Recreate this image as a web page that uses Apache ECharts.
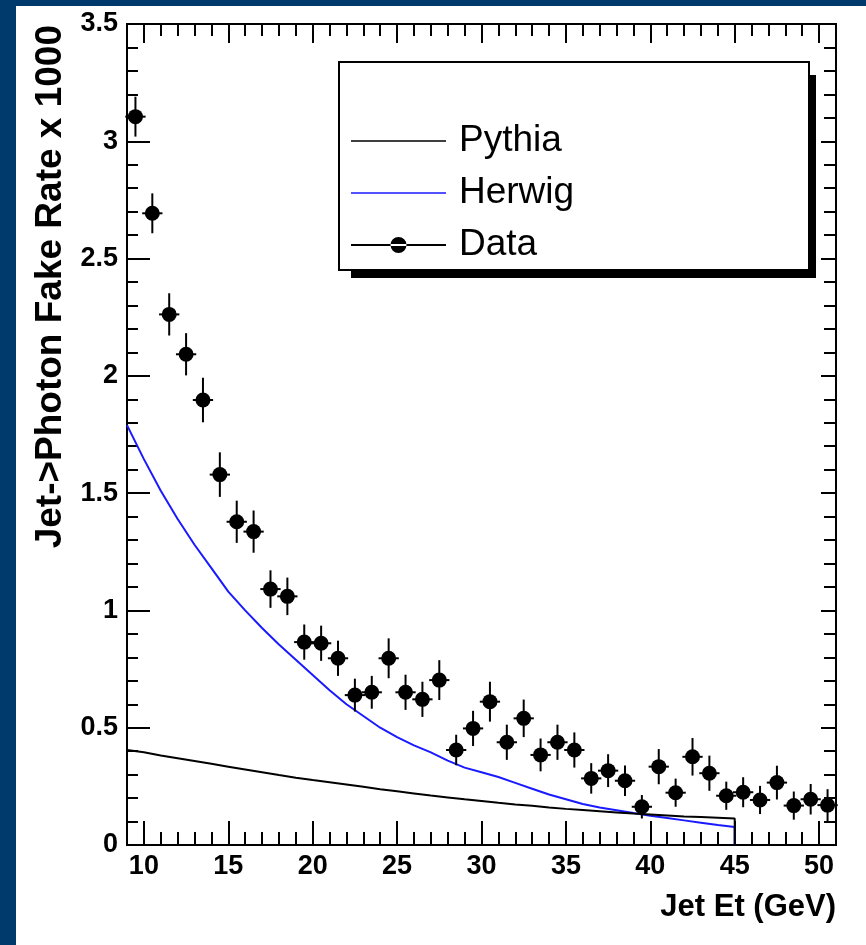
<!DOCTYPE html>
<html>
<head>
<meta charset="utf-8">
<script src="https://cdn.jsdelivr.net/npm/echarts@6/dist/echarts.min.js"></script>
<style>
html,body{margin:0;padding:0;background:#fff;}
#chart{width:866px;height:945px;}
</style>
</head>
<body>
<div id="chart"></div>
<script>
// ---- data ----
const binCenters = [9.5,10.5,11.5,12.5,13.5,14.5,15.5,16.5,17.5,18.5,19.5,20.5,21.5,22.5,23.5,24.5,25.5,26.5,27.5,28.5,29.5,30.5,31.5,32.5,33.5,34.5,35.5,36.5,37.5,38.5,39.5,40.5,41.5,42.5,43.5,44.5,45.5,46.5,47.5,48.5,49.5,50.5];
const dataValues = [3.105,2.693,2.262,2.092,1.897,1.579,1.378,1.336,1.091,1.06,0.865,0.86,0.796,0.639,0.651,0.796,0.651,0.621,0.703,0.405,0.497,0.611,0.438,0.54,0.384,0.438,0.405,0.284,0.317,0.274,0.163,0.334,0.223,0.376,0.306,0.21,0.225,0.192,0.266,0.168,0.195,0.17];
const dataErrors = [0.085,0.085,0.09,0.09,0.095,0.095,0.09,0.09,0.08,0.08,0.075,0.075,0.075,0.07,0.07,0.085,0.075,0.075,0.085,0.065,0.075,0.085,0.075,0.08,0.07,0.075,0.075,0.065,0.07,0.065,0.05,0.075,0.06,0.08,0.075,0.06,0.064,0.06,0.072,0.06,0.065,0.068];
const binHalfWidth = 0.6;
const curveX = [9,10,11,12,13,14,15,16,17,18,19,20,21,22,23,24,25,26,27,28,29,30,31,32,33,34,35,36,37,38,39,40,41,42,43,44,45];
const pythiaValues = [0.405,0.395,0.382,0.37,0.358,0.346,0.334,0.322,0.31,0.298,0.287,0.277,0.268,0.258,0.248,0.238,0.229,0.22,0.211,0.203,0.195,0.188,0.18,0.173,0.167,0.16,0.154,0.149,0.144,0.139,0.134,0.13,0.126,0.122,0.119,0.116,0.113];
const herwigValues = [1.79,1.645,1.51,1.39,1.28,1.18,1.08,1.0,0.925,0.855,0.79,0.725,0.66,0.6,0.55,0.5,0.46,0.425,0.395,0.36,0.33,0.31,0.29,0.265,0.24,0.215,0.195,0.175,0.16,0.148,0.136,0.125,0.115,0.105,0.095,0.085,0.077];
const xMajorTicks = [10,15,20,25,30,35,40,45,50];
const xRange = [9, 51];
const yRange = [0, 3.5];
const seriesNames = ['Pythia','Herwig','Data'];
const xTitle = 'Jet Et (GeV)';
const yTitle = 'Jet->Photon Fake Rate x 1000';

// ---- chart ----
const SANS = '"Liberation Sans", Arial, Helvetica, sans-serif';
const chart = echarts.init(document.getElementById('chart'), null, {renderer:'canvas'});

function histLine(xs, vs){
  const d = xs.map((x,i)=>[x, vs[i]]);
  d.push([xs[xs.length-1], 0]);
  return d;
}

const tickStyle = {color:'#000', width:2};
const labelStyle = {color:'#000', fontFamily:SANS, fontWeight:'bold', fontSize:27};
const lineIcon = 'path://M0,0L95,0Z M0,7.2L95,7.2L95,8.8L0,8.8Z M0,16L95,16Z';
const dataIcon = 'path://M0,0L95,0Z M0,7.1L95,7.1L95,8.9L0,8.9Z M39.5,8A8,8,0,1,0,55.5,8A8,8,0,1,0,39.5,8Z M0,16L95,16Z';

const option = {
  backgroundColor:'#ffffff',
  animation:false,
  grid:{left:127, top:24, width:709, height:821, show:true, borderColor:'#000', borderWidth:2, backgroundColor:'transparent'},
  xAxis:[
    {type:'value', min:xRange[0], max:xRange[1], interval:1, position:'bottom',
     axisLine:{show:true, onZero:false, lineStyle:{color:'#000', width:2}},
     axisTick:{show:true, inside:true, length:13, lineStyle:tickStyle},
     axisLabel:{show:false}, splitLine:{show:false},
     name:xTitle, nameLocation:'end', nameGap:0,
     nameTextStyle:{color:'#000', fontFamily:SANS, fontWeight:'bold', fontSize:31, align:'right', verticalAlign:'top', padding:[47,0,0,0]}},
    {type:'value', min:xRange[0], max:xRange[1], position:'bottom',
     axisLine:{show:false, onZero:false},
     axisTick:{show:true, inside:true, length:24, lineStyle:tickStyle, customValues:xMajorTicks},
     axisLabel:Object.assign({show:true, margin:8, customValues:xMajorTicks}, labelStyle),
     splitLine:{show:false}},
    {type:'value', min:xRange[0], max:xRange[1], interval:1, position:'top',
     axisLine:{show:true, onZero:false, lineStyle:{color:'#000', width:2}},
     axisTick:{show:true, inside:true, length:12, lineStyle:tickStyle},
     axisLabel:{show:false}, splitLine:{show:false}},
    {type:'value', min:xRange[0], max:xRange[1], position:'top',
     axisLine:{show:false, onZero:false},
     axisTick:{show:true, inside:true, length:19, lineStyle:tickStyle, customValues:xMajorTicks},
     axisLabel:{show:false}, splitLine:{show:false}}
  ],
  yAxis:[
    {type:'value', min:yRange[0], max:yRange[1], interval:0.1, position:'left',
     axisLine:{show:true, onZero:false, lineStyle:{color:'#000', width:2}},
     axisTick:{show:true, inside:true, length:11, lineStyle:tickStyle},
     axisLabel:{show:false}, splitLine:{show:false},
     name:yTitle, nameLocation:'end', nameGap:-1, nameRotate:90,
     nameTextStyle:{color:'#000', fontFamily:SANS, fontWeight:'bold', fontSize:37, align:'right', verticalAlign:'bottom', padding:[0,0,58,0]}},
    {type:'value', min:yRange[0], max:yRange[1], interval:0.5, position:'left',
     axisLine:{show:false, onZero:false},
     axisTick:{show:true, inside:true, length:23, lineStyle:tickStyle},
     axisLabel:Object.assign({show:true, margin:9, padding:[8,0,0,0]}, labelStyle),
     splitLine:{show:false}},
    {type:'value', min:yRange[0], max:yRange[1], interval:0.1, position:'right',
     axisLine:{show:true, onZero:false, lineStyle:{color:'#000', width:2}},
     axisTick:{show:true, inside:true, length:12, lineStyle:tickStyle},
     axisLabel:{show:false}, splitLine:{show:false}},
    {type:'value', min:yRange[0], max:yRange[1], interval:0.5, position:'right',
     axisLine:{show:false, onZero:false},
     axisTick:{show:true, inside:true, length:15, lineStyle:tickStyle},
     axisLabel:{show:false}, splitLine:{show:false}}
  ],
  legend:{
    show:true, orient:'vertical', left:351, top:119, padding:0,
    itemWidth:95, itemHeight:16, itemGap:8, selectedMode:false,
    textStyle:{color:'#000', fontFamily:SANS, fontSize:37, lineHeight:44, padding:[0,0,0,8]},
    data:[
      {name:seriesNames[0], icon:lineIcon, itemStyle:{color:'#000'}},
      {name:seriesNames[1], icon:lineIcon, itemStyle:{color:'#1a1aff'}},
      {name:seriesNames[2], icon:dataIcon, itemStyle:{color:'#000'}}
    ]
  },
  graphic:[
    {type:'rect', shape:{x:0, y:0, width:16, height:945}, style:{fill:'#00396b'}, silent:true},
    {type:'rect', shape:{x:0, y:0, width:866, height:6}, style:{fill:'#00396b'}, silent:true},
    {type:'rect', shape:{x:351, y:75, width:465, height:203}, style:{fill:'#000'}, silent:true, z:1},
    {type:'rect', shape:{x:339, y:62, width:470, height:208}, style:{fill:'#fff', stroke:'#000', lineWidth:2}, silent:true, z:2}
  ],
  series:[
    {name:seriesNames[1], type:'line', xAxisIndex:0, yAxisIndex:0, data:histLine(curveX, herwigValues),
     showSymbol:false, symbol:'none', lineStyle:{color:'#1a1aff', width:2}, itemStyle:{color:'#1a1aff'}, silent:true, z:3},
    {name:seriesNames[0], type:'line', xAxisIndex:0, yAxisIndex:0, data:histLine(curveX, pythiaValues),
     showSymbol:false, symbol:'none', lineStyle:{color:'#000', width:2}, itemStyle:{color:'#000'}, silent:true, z:3},
    {name:seriesNames[2], type:'custom', xAxisIndex:0, yAxisIndex:0,
     data:binCenters.map((x,i)=>[x, dataValues[i], dataErrors[i]]),
     itemStyle:{color:'#000'}, silent:true, z:4,
     renderItem:function(params, api){
       const x = api.value(0), y = api.value(1), e = api.value(2);
       const c = api.coord([x, y]);
       const t = api.coord([x, y + e]);
       const b = api.coord([x, y - e]);
       const l = api.coord([x - binHalfWidth, y]);
       const r = api.coord([x + binHalfWidth, y]);
       return {type:'group', children:[
         {type:'line', shape:{x1:c[0], y1:t[1], x2:c[0], y2:b[1]}, style:{stroke:'#000', lineWidth:2}},
         {type:'line', shape:{x1:l[0], y1:c[1], x2:r[0], y2:c[1]}, style:{stroke:'#000', lineWidth:2}},
         {type:'circle', shape:{cx:c[0], cy:c[1], r:7.5}, style:{fill:'#000'}}
       ]};
     }}
  ]
};
chart.setOption(option);
</script>
</body>
</html>
